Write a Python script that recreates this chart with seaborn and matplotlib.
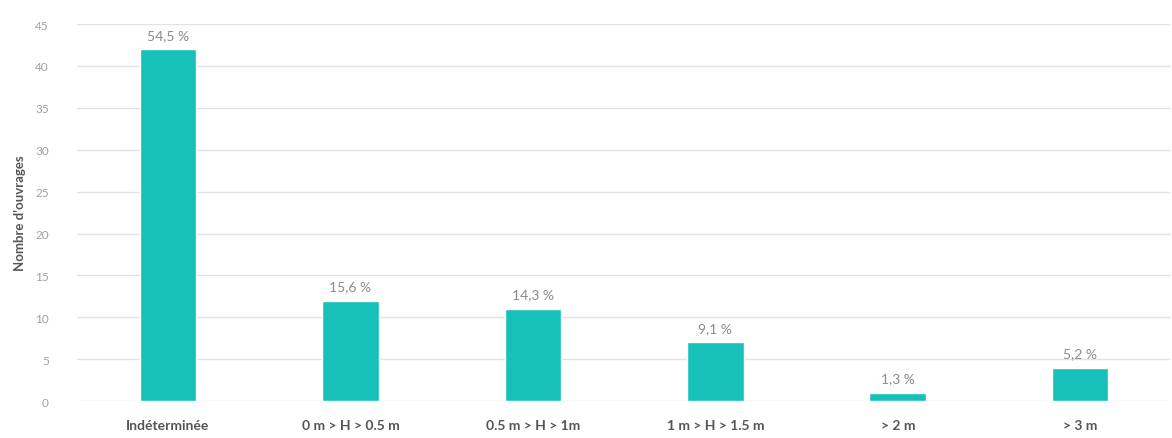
import pandas as pd
import matplotlib
matplotlib.use("Agg")
import matplotlib.pyplot as plt
import seaborn as sns

# Données
categories = ["Indéterminée", "0 m > H > 0.5 m", "0.5 m > H > 1m",
              "1 m > H > 1.5 m", "> 2 m", "> 3 m"]
nb_ouvrages = [42, 12, 11, 7, 1, 4]
pourcentages = ["54,5 %", "15,6 %", "14,3 %", "9,1 %", "1,3 %", "5,2 %"]

df = pd.DataFrame({"categorie": categories, "nombre": nb_ouvrages})

sns.set_style("white")
plt.rcParams['font.family'] = ['Lato', 'DejaVu Sans']

fig = plt.figure(figsize=(11.72, 4.39), dpi=100)
ax = fig.add_axes([0.0655, 0.084, 0.934, 0.859])

sns.barplot(data=df, x="categorie", y="nombre", color="#17C1B9",
            width=0.31, saturation=1, ax=ax, zorder=3)

for i, (v, txt) in enumerate(zip(nb_ouvrages, pourcentages)):
    ax.text(i, v + 1.0, txt, ha="center", va="bottom", fontsize=10,
            color="#8a8a8a")

ax.set_ylim(0, 45)
ax.set_yticks(range(0, 46, 5))
ax.yaxis.grid(True, color="#e3e3e3", linewidth=1, zorder=0)
ax.set_axisbelow(True)
for s in ax.spines.values():
    s.set_visible(False)

ax.tick_params(axis="y", labelsize=8.5, labelcolor="#a0a0a0", length=0, pad=20)
ax.tick_params(axis="x", labelsize=10, labelcolor="#555555", length=0, pad=13)
for lbl in ax.get_xticklabels():
    lbl.set_fontweight("bold")

ax.set_xlabel("")
ax.set_ylabel("Nombre d'ouvrages", fontsize=9.5, color="#555555",
              fontweight="bold", labelpad=7)

fig.savefig("out.png", dpi=100)
